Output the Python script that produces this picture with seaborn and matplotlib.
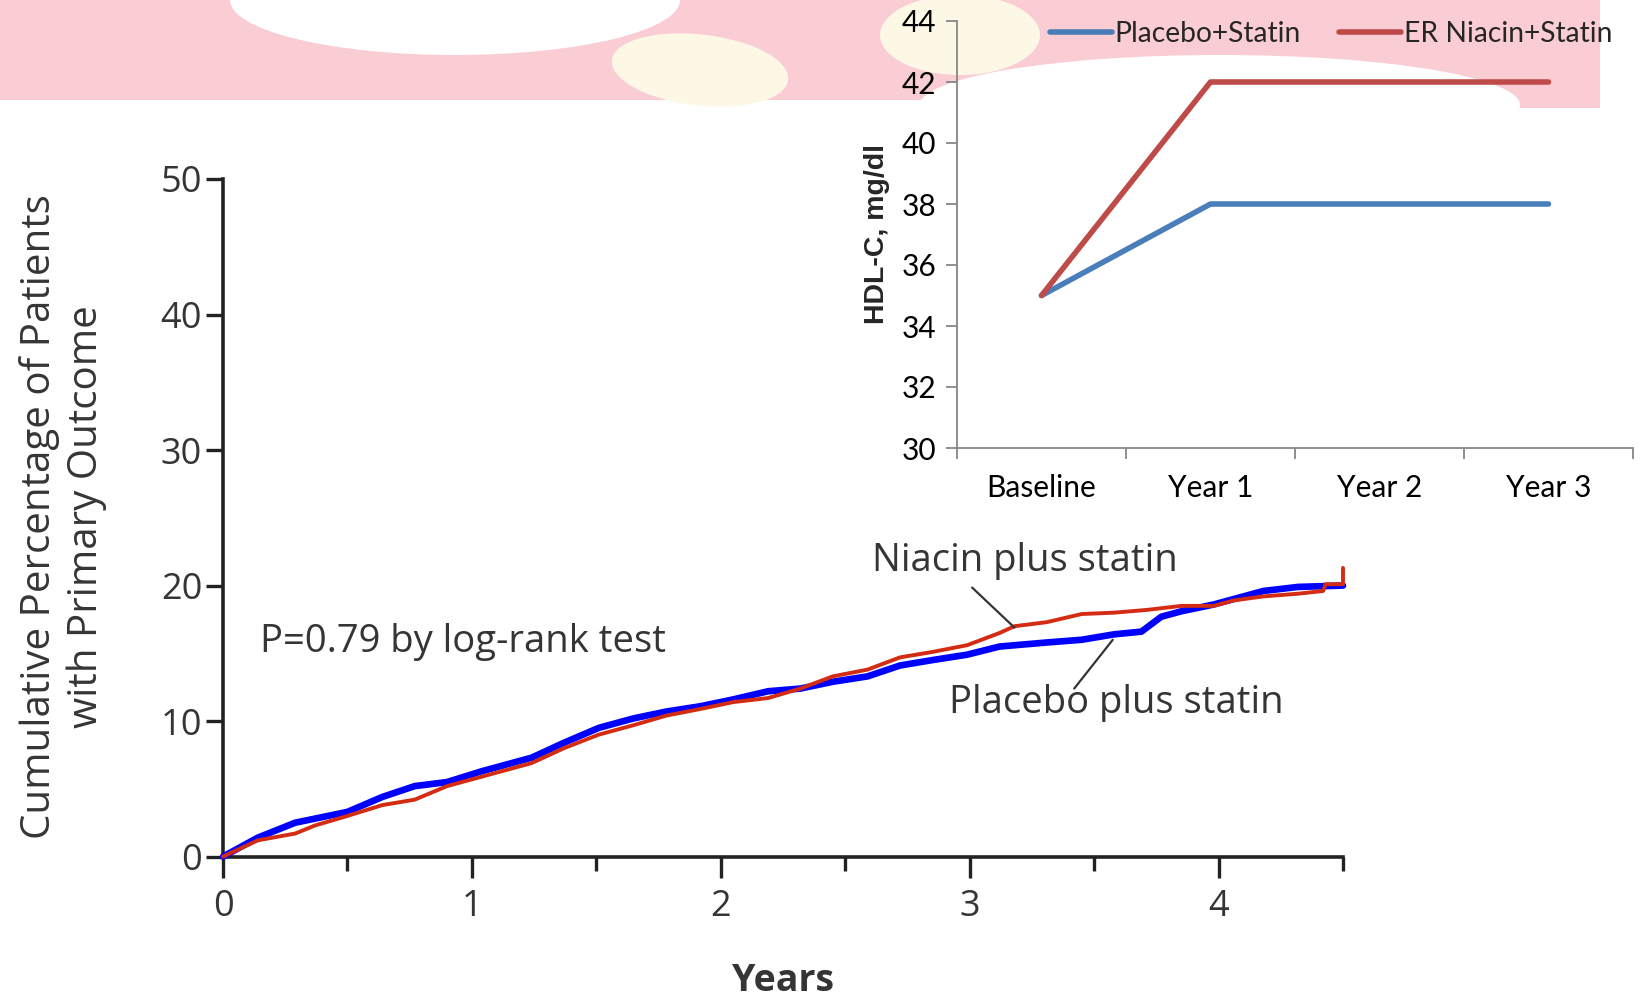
import numpy as np
import pandas as pd
import matplotlib
matplotlib.use("Agg")
import matplotlib.pyplot as plt
from matplotlib.patches import Rectangle, Ellipse
import seaborn as sns

# Kaplan-Meier style cumulative event curves (years, % of patients)
placebo_years = [0, 0.14, 0.29, 0.5, 0.64, 0.77, 0.9, 1.04, 1.24, 1.37, 1.51, 1.65,
                 1.78, 1.92, 2.05, 2.19, 2.32, 2.45, 2.59, 2.72, 2.85, 2.99, 3.12,
                 3.31, 3.45, 3.58, 3.69, 3.77, 3.85, 3.98, 4.12, 4.18, 4.32, 4.5]
placebo_pct = [0, 1.4, 2.5, 3.3, 4.4, 5.2, 5.5, 6.3, 7.3, 8.4, 9.5, 10.2,
               10.7, 11.1, 11.6, 12.2, 12.4, 12.9, 13.3, 14.1, 14.5, 14.9, 15.5,
               15.8, 16.0, 16.4, 16.6, 17.7, 18.1, 18.6, 19.3, 19.6, 19.9, 20.0]

niacin_years = [0, 0.14, 0.29, 0.37, 0.5, 0.64, 0.77, 0.9, 1.04, 1.24, 1.37, 1.51,
                1.65, 1.78, 1.92, 2.05, 2.19, 2.32, 2.45, 2.59, 2.72, 2.85, 2.99,
                3.12, 3.18, 3.31, 3.45, 3.58, 3.71, 3.85, 3.98, 4.06, 4.18, 4.32,
                4.42, 4.43, 4.5, 4.5]
niacin_pct = [0, 1.2, 1.7, 2.3, 3.0, 3.8, 4.2, 5.2, 5.9, 6.9, 8.0, 9.0,
              9.7, 10.4, 10.9, 11.4, 11.7, 12.4, 13.3, 13.8, 14.7, 15.1, 15.6,
              16.5, 17.0, 17.3, 17.9, 18.0, 18.2, 18.5, 18.5, 18.9, 19.2, 19.4,
              19.6, 20.1, 20.1, 21.3]

main_yticks = [0, 10, 20, 30, 40, 50]
main_xticks = [0, 1, 2, 3, 4]

# HDL-C by visit
visits = ["Baseline", "Year 1", "Year 2", "Year 3"]
hdl_placebo = [35, 38, 38, 38]
hdl_niacin = [35, 42, 42, 42]
hdl_yticks = [30, 32, 34, 36, 38, 40, 42, 44]

sns.set_style("ticks")
plt.rcParams["font.family"] = ["Open Sans", "DejaVu Sans"]
INSET_FONT = ["Lato", "DejaVu Sans"]
TEXT = "#353535"

W, H = 1642, 1000
fig = plt.figure(figsize=(W / 100, H / 100), dpi=100)


def fx(px):
    return px / W


def fy(py):
    return 1 - py / H


# decorative banner along the top edge
band_kw = dict(transform=fig.transFigure, zorder=-10, lw=0)
fig.patches.append(Rectangle((0, fy(100)), fx(1600), 100 / H, color="#f9cdd3", **band_kw))
fig.patches.append(Rectangle((fx(1470), fy(108)), fx(130), 8 / H, color="#f9cdd3", **band_kw))
fig.patches.append(Ellipse((fx(455), fy(0)), fx(450), 110 / H, color="white", **band_kw))
fig.patches.append(Ellipse((fx(700), fy(70)), fx(180), 70 / H, angle=-15,
                           color="#fdf8e6", **band_kw))
fig.patches.append(Ellipse((fx(960), fy(35)), fx(160), 80 / H,
                           color="#fdf8e6", **band_kw))
fig.patches.append(Ellipse((fx(1220), fy(105)), fx(600), 100 / H, color="white", **band_kw))

# ---------------- main cumulative incidence panel ----------------
ax = fig.add_axes([fx(223), fy(856.6), fx(1120), (856.6 - 179) / H])
ax.set_facecolor("none")

df_p = pd.DataFrame({"years": placebo_years, "pct": placebo_pct})
df_n = pd.DataFrame({"years": niacin_years, "pct": niacin_pct})
sns.lineplot(data=df_p, x="years", y="pct", ax=ax, color="#0000ff", lw=4.8,
             sort=False, estimator=None, clip_on=False, zorder=3)
sns.lineplot(data=df_n, x="years", y="pct", ax=ax, color="#d42c12", lw=2.8,
             sort=False, estimator=None, clip_on=False, zorder=4)

ax.set_xlim(0, 4.5)
ax.set_ylim(0, 50)
ax.set_xticks(main_xticks)
ax.set_xticks(np.arange(0.5, 4.6, 1.0), minor=True)
ax.set_yticks(main_yticks)
ax.set_xlabel("")
ax.set_ylabel("")
for side in ["top", "right"]:
    ax.spines[side].set_visible(False)
for side in ["left", "bottom"]:
    ax.spines[side].set_linewidth(2.6)
    ax.spines[side].set_color("#222222")
ax.tick_params(axis="x", which="major", length=15, width=2.4, color="#222222",
               labelsize=26, labelcolor=TEXT, pad=8)
ax.tick_params(axis="x", which="minor", length=10, width=2.4, color="#222222")
ax.tick_params(axis="y", which="major", length=12, width=2.4, color="#222222",
               labelsize=26, labelcolor=TEXT, pad=3)

fig.text(fx(63), fy(517), "Cumulative Percentage of Patients\nwith Primary Outcome",
         rotation=90, ha="center", va="center", multialignment="center",
         fontsize=29, color=TEXT, linespacing=1.2)
fig.text(fx(783), fy(981), "Years", ha="center", va="center",
         fontsize=27, fontweight="bold", color=TEXT)

ax.text(0.15, 15.85, "P=0.79 by log-rank test", ha="left", va="center",
        fontsize=27.5, color=TEXT)

# curve labels with leader lines
ax.text(3.22, 21.8, "Niacin plus statin", ha="center", va="center",
        fontsize=27.5, color=TEXT)
ax.plot([3.01, 3.18], [19.85, 16.9], color=TEXT, lw=1.6, zorder=5)
ax.text(3.59, 11.35, "Placebo plus statin", ha="center", va="center",
        fontsize=27.5, color=TEXT)
ax.plot([3.42, 3.575], [12.4, 16.0], color=TEXT, lw=1.6, zorder=5)

# ---------------- inset: HDL-C over time ----------------
ax2 = fig.add_axes([fx(957), fy(448), fx(676), 427 / H])
ax2.set_facecolor("none")
pos = np.arange(len(visits))
sns.lineplot(x=pos, y=hdl_placebo, ax=ax2, color="#4a7ebb", lw=4,
             solid_capstyle="round", label="Placebo+Statin", zorder=3)
sns.lineplot(x=pos, y=hdl_niacin, ax=ax2, color="#be4b48", lw=4,
             solid_capstyle="round", label="ER Niacin+Statin", zorder=4)

ax2.set_xlim(-0.5, 3.5)
ax2.set_ylim(30, 44)
ax2.set_yticks(hdl_yticks)
ax2.set_xticks(np.arange(-0.5, 3.6, 1.0))
ax2.set_xticklabels([])
ax2.set_xticks(pos, minor=True)
ax2.set_xticklabels(visits, minor=True)
for lab in ax2.get_xticklabels(minor=True) + ax2.get_yticklabels():
    lab.set_family(INSET_FONT)
for side in ["top", "right"]:
    ax2.spines[side].set_visible(False)
for side in ["left", "bottom"]:
    ax2.spines[side].set_linewidth(1.3)
    ax2.spines[side].set_color("#868686")
ax2.tick_params(axis="y", length=8, width=1.3, color="#868686",
                labelsize=21.5, labelcolor="black", pad=7)
ax2.tick_params(axis="x", which="major", length=8, width=1.3, color="#868686")
ax2.tick_params(axis="x", which="minor", length=0, labelsize=21.5,
                labelcolor="black", pad=19)
ax2.set_ylabel("HDL-C, mg/dl", fontsize=20.5, fontweight="bold",
               family=["Liberation Sans", "DejaVu Sans"], labelpad=8)
ax2.set_xlabel("")

ax2.legend(loc="center left", bbox_to_anchor=(fx(1050), fy(34)),
           bbox_transform=fig.transFigure, ncol=2, frameon=False,
           prop={"family": INSET_FONT, "size": 20.3}, handlelength=2.2,
           handletextpad=0.1, columnspacing=1.35, borderpad=0, borderaxespad=0)

fig.savefig("out.png", dpi=100)
